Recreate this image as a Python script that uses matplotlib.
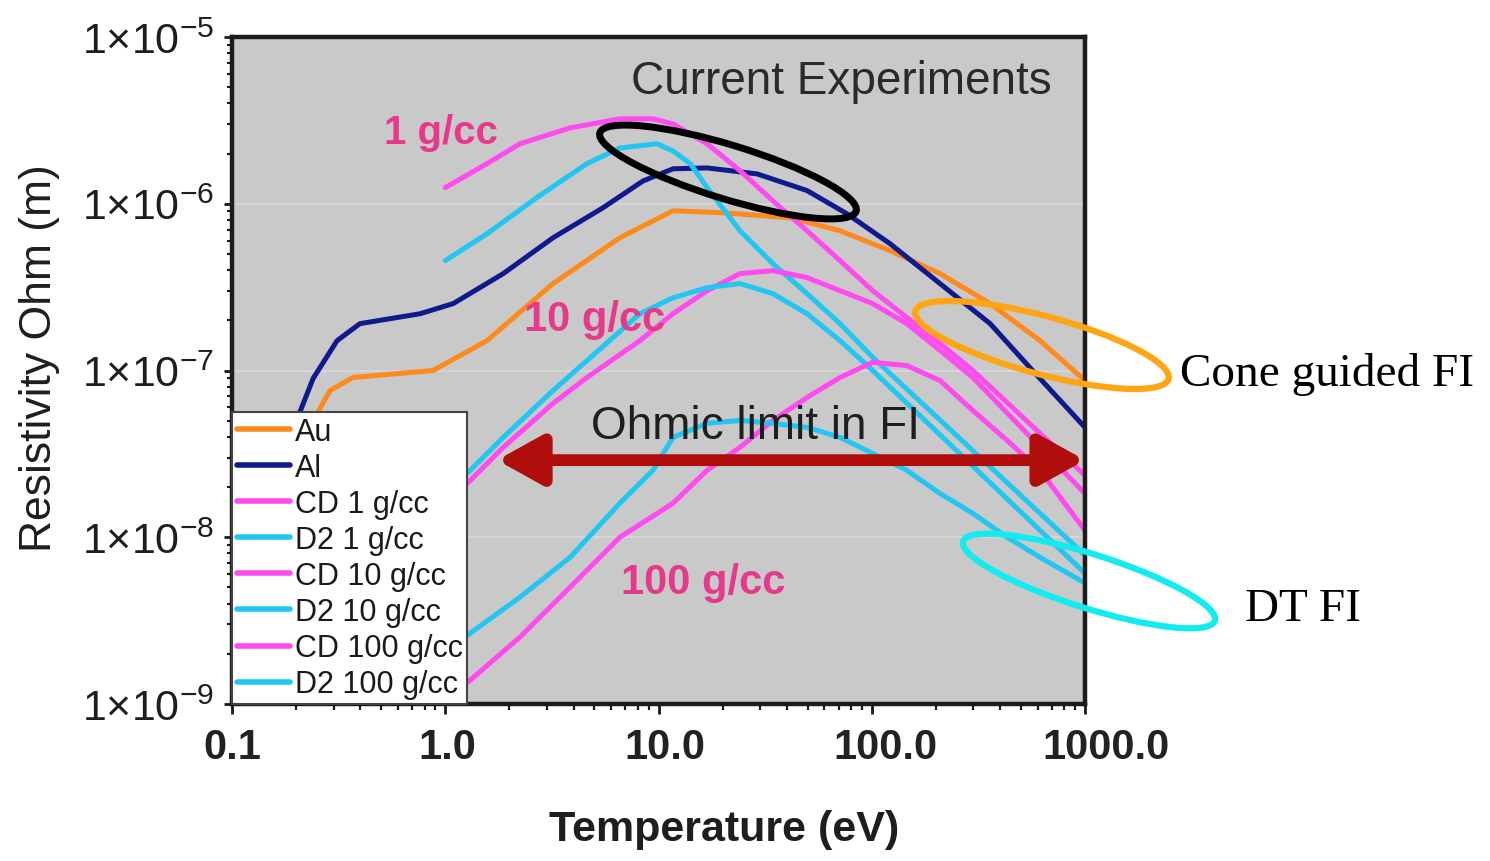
import matplotlib
matplotlib.use("Agg")
import matplotlib.pyplot as plt
import matplotlib.transforms as mtransforms
from matplotlib.patches import Ellipse
from matplotlib.ticker import LogLocator, NullFormatter, FixedLocator

plt.rcParams['font.family'] = ['Liberation Sans', 'DejaVu Sans']
plt.rcParams['mathtext.fontset'] = 'custom'
plt.rcParams['mathtext.rm'] = 'Liberation Sans'
plt.rcParams['mathtext.it'] = 'Liberation Sans:italic'
plt.rcParams['mathtext.bf'] = 'Liberation Sans:bold'

# ---- data (temperature in eV, resistivity in Ohm m) ----
au_T = [0.208, 0.251, 0.288, 0.369, 0.877, 1.57, 3.20, 6.59, 11.7, 20.1, 41.4, 71.0, 122, 209, 359, 615, 1000]
au_r = [3.81e-8, 5.53e-8, 7.58e-8, 9.08e-8, 1.00e-7, 1.51e-7, 3.32e-7, 6.25e-7, 9.08e-7, 8.83e-7, 8.24e-7,
        6.89e-7, 5.23e-7, 3.81e-7, 2.52e-7, 1.51e-7, 8.71e-8]

al_T = [0.177, 0.240, 0.311, 0.398, 0.762, 1.09, 1.87, 3.20, 5.49, 8.46, 11.7, 16.9, 29.0, 49.7, 76.5, 122, 209, 359, 552, 1000]
al_r = [3.32e-8, 8.95e-8, 1.51e-7, 1.91e-7, 2.19e-7, 2.52e-7, 3.81e-7, 6.25e-7, 9.46e-7, 1.37e-6, 1.62e-6,
        1.64e-6, 1.51e-6, 1.20e-6, 8.71e-7, 5.75e-7, 3.32e-7, 1.91e-7, 1.04e-7, 4.56e-8]

cd1_T = [1.0, 1.57, 2.24, 3.85, 6.59, 9.42, 11.7, 16.9, 24.1, 34.4, 49.7, 71.0, 101, 146, 209, 298, 1000]
cd1_r = [1.25e-6, 1.74e-6, 2.29e-6, 2.85e-6, 3.23e-6, 3.23e-6, 3.01e-6, 2.29e-6, 1.58e-6, 1.04e-6, 6.89e-7,
         4.56e-7, 3.01e-7, 2.08e-7, 1.45e-7, 1.00e-7, 2.35e-8]

d21_T = [1.0, 1.57, 2.69, 4.62, 6.59, 9.84, 11.7, 14.1, 16.9, 24.1, 34.4, 49.7, 71.0, 101, 1000]
d21_r = [4.56e-7, 6.61e-7, 1.09e-6, 1.74e-6, 2.16e-6, 2.29e-6, 2.07e-6, 1.74e-6, 1.25e-6, 6.89e-7, 4.37e-7,
         2.89e-7, 1.91e-7, 1.20e-7, 7.8e-9]

cd10_T = [1.0, 1.31, 1.87, 3.20, 4.62, 8.18, 11.7, 16.9, 24.1, 34.4, 49.7, 71.0, 101, 146, 209, 298, 1000]
cd10_r = [1.60e-8, 2.19e-8, 3.46e-8, 6.34e-8, 9.08e-8, 1.51e-7, 2.19e-7, 3.01e-7, 3.81e-7, 3.97e-7, 3.61e-7,
          3.01e-7, 2.52e-7, 1.91e-7, 1.32e-7, 9.08e-8, 1.83e-8]

d210_T = [1.0, 1.31, 1.87, 3.20, 8.18, 11.7, 16.9, 24.1, 34.4, 49.7, 71.0, 101, 1000]
d210_r = [1.83e-8, 2.52e-8, 3.97e-8, 7.58e-8, 2.19e-7, 2.73e-7, 3.14e-7, 3.32e-7, 2.89e-7, 2.19e-7, 1.51e-7,
          1.00e-7, 6.08e-9]

cd100_T = [1.0, 1.31, 2.24, 3.85, 6.59, 11.7, 16.9, 24.1, 34.4, 49.7, 71.0, 101, 146, 209, 298, 431, 615, 1000]
cd100_r = [1.06e-9, 1.39e-9, 2.52e-9, 5.02e-9, 1.00e-8, 1.60e-8, 2.52e-8, 3.46e-8, 5.02e-8, 6.89e-8, 9.08e-8,
           1.12e-7, 1.07e-7, 8.71e-8, 5.75e-8, 3.81e-8, 2.52e-8, 1.10e-8]

d2100_T = [1.0, 1.31, 2.24, 3.85, 6.59, 9.42, 11.7, 16.9, 24.1, 34.4, 49.7, 71.0, 101, 146, 209, 298, 431, 615, 1000]
d2100_r = [2.10e-9, 2.66e-9, 4.37e-9, 7.58e-9, 1.60e-8, 2.52e-8, 3.97e-8, 4.82e-8, 5.02e-8, 4.82e-8, 4.56e-8,
           3.97e-8, 3.18e-8, 2.52e-8, 1.83e-8, 1.39e-8, 1.00e-8, 7.58e-9, 5.31e-9]

ohmic_T = [1.75, 1000]
ohmic_r = 2.9e-8

xticks = [0.1, 1, 10, 100, 1000]
xtick_labels = ["0.1", "1.0", "10.0", "100.0", "1000.0"]
xlabel_shift = [0, 2, 6, 14, 21]   # px, labels sit a little right of their ticks in the original
yticks = [1e-9, 1e-8, 1e-7, 1e-6, 1e-5]
ytick_labels = [r"$\mathregular{1{\times}10^{-%d}}$" % k for k in (9, 8, 7, 6, 5)]

orange = "#ff8a1c"
navy = "#0f1a8c"
magenta = "#ff4af0"
cyan = "#22c6f2"
pink_txt = "#e6398c"

series = [
    ("Au", au_T, au_r, orange),
    ("Al", al_T, al_r, navy),
    ("CD 1 g/cc", cd1_T, cd1_r, magenta),
    ("D2 1 g/cc", d21_T, d21_r, cyan),
    ("CD 10 g/cc", cd10_T, cd10_r, magenta),
    ("D2 10 g/cc", d210_T, d210_r, cyan),
    ("CD 100 g/cc", cd100_T, cd100_r, magenta),
    ("D2 100 g/cc", d2100_T, d2100_r, cyan),
]

fig = plt.figure(figsize=(14.9, 8.62), dpi=100)
ax = fig.add_axes([232 / 1490, 1 - 705 / 862, 853 / 1490, 667 / 862])
ax.set_facecolor("#c9c9c9")

for name, T, r, c in series:
    ax.plot(T, r, color=c, lw=3.6, label=name, solid_capstyle="round", solid_joinstyle="round")

ax.set_xscale("log")
ax.set_yscale("log")
ax.set_xlim(0.1, 1000)
ax.set_ylim(1e-9, 1e-5)

ax.xaxis.set_major_locator(FixedLocator(xticks))
ax.xaxis.set_minor_locator(LogLocator(base=10, subs=range(2, 10)))
ax.xaxis.set_minor_formatter(NullFormatter())
ax.yaxis.set_major_locator(FixedLocator(yticks))
ax.set_yticklabels(ytick_labels)
ax.yaxis.set_minor_locator(LogLocator(base=10, subs=range(2, 10)))
ax.yaxis.set_minor_formatter(NullFormatter())

ax.tick_params(axis="x", which="major", direction="out", length=7, width=2, color="#1a1a1a",
               labelbottom=False)
ax.tick_params(axis="x", which="minor", direction="out", length=4, width=1.6, color="#1a1a1a")
ax.tick_params(axis="y", which="major", direction="out", length=6, width=2, pad=7,
               labelsize=31, labelcolor="#1e1e1e", color="#1a1a1a")
ax.tick_params(axis="y", which="minor", direction="out", length=3.5, width=1.5, color="#1a1a1a")

# x tick labels drawn as text so they can sit like the original
xtrans = mtransforms.blended_transform_factory(ax.transData, ax.transAxes)
for xv, lab, dx in zip(xticks, xtick_labels, xlabel_shift):
    off = mtransforms.ScaledTranslation(dx / 100, 0, fig.dpi_scale_trans)
    ax.text(xv, -0.0645, lab, transform=xtrans + off, ha="center", va="center",
            fontsize=30, fontweight="bold", color="#222222", clip_on=False)

ax.yaxis.grid(True, which="major", color="#d8d8d8", lw=1.2)
ax.set_axisbelow(True)
for s in ax.spines.values():
    s.set_linewidth(3.2)
    s.set_color("#1c1c1c")

# ohmic limit arrow
ax.annotate("", xy=(ohmic_T[1], ohmic_r), xytext=(ohmic_T[0], ohmic_r),
            arrowprops=dict(arrowstyle="<|-|>,head_length=0.9,head_width=0.5", lw=8.5,
                            color="#b00d0d", mutation_scale=30, shrinkA=0, shrinkB=0),
            zorder=5, annotation_clip=False)

ax.text(0.714, 0.934, "Current Experiments", transform=ax.transAxes, ha="center", va="center",
        fontsize=33, color="#2a2a2a")
ax.text(0.245, 0.858, "1 g/cc", transform=ax.transAxes, ha="center", va="center",
        fontsize=29, color=pink_txt, fontweight="bold")
ax.text(0.4256, 0.577, "10 g/cc", transform=ax.transAxes, ha="center", va="center",
        fontsize=30, color=pink_txt, fontweight="bold")
ax.text(0.552, 0.183, "100 g/cc", transform=ax.transAxes, ha="center", va="center",
        fontsize=30, color=pink_txt, fontweight="bold")
ax.text(0.614, 0.417, "Ohmic limit in FI", transform=ax.transAxes, ha="center", va="center",
        fontsize=33, color="#1e1e1e", zorder=4)

leg = ax.legend(loc="lower left", bbox_to_anchor=(0, 0), borderaxespad=0, fontsize=22,
                handlelength=1.75, handletextpad=0.15, labelspacing=0.2, borderpad=0.15,
                fancybox=False, framealpha=1, edgecolor="#444444")
leg.get_frame().set_linewidth(1.5)
for t in leg.get_texts():
    t.set_color("#1a1a1a")
for l in leg.get_lines():
    l.set_linewidth(4)
leg.set_zorder(6)

fig.text(0.486, 0.037, "Temperature (eV)", ha="center", va="center", fontsize=31,
         fontweight="bold", color="#1e1e1e")
fig.text(0.0268, 0.585, "Resistivity Ohm (m)", ha="center", va="center", rotation=90,
         fontsize=32, color="#1e1e1e")
fig.text(0.8906, 0.565, "Cone guided FI", ha="center", va="center", fontsize=34,
         family=["Liberation Serif", "DejaVu Serif"])
fig.text(0.8745, 0.2923, "DT FI", ha="center", va="center", fontsize=34,
         family=["Liberation Serif", "DejaVu Serif"])

# hand-drawn style ellipses, in figure pixel space
ov = fig.add_axes([0, 0, 1, 1], zorder=10)
ov.set_xlim(0, 1490)
ov.set_ylim(862, 0)
ov.set_axis_off()
ov.add_patch(Ellipse((728, 173), 268, 54, angle=17, fill=False, ec="black", lw=5))
ov.add_patch(Ellipse((1042, 346), 262, 58, angle=15, fill=False, ec="#ffa412", lw=4.5))
ov.add_patch(Ellipse((1089, 582), 264, 54, angle=17.5, fill=False, ec="#12ecf0", lw=4.5))

fig.savefig("out.png", dpi=100)
